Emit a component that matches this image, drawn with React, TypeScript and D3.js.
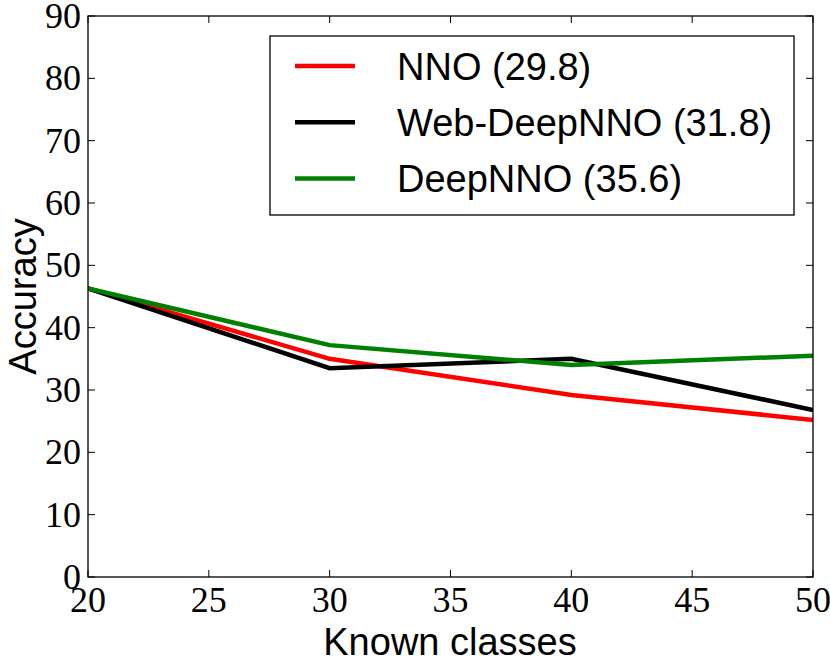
import React from "react";
import * as d3 from "d3";

const knownClasses = [20, 30, 40, 50];
const nnoValues = [46.3, 35.0, 29.2, 25.2];
const webDeepNnoValues = [46.3, 33.5, 35.0, 26.8];
const deepNnoValues = [46.3, 37.2, 34.0, 35.5];
const seriesLabels = ["NNO (29.8)", "Web-DeepNNO (31.8)", "DeepNNO (35.6)"];
const seriesColors = ["#ff0000", "#000000", "#008000"];
const xTicks = [20, 25, 30, 35, 40, 45, 50];
const yTicks = [0, 10, 20, 30, 40, 50, 60, 70, 80, 90];

const W = 830;
const H = 658;
const left = 88;
const right = 813;
const top = 16;
const bottom = 577;

export default function App() {
  const x = d3.scaleLinear().domain([20, 50]).range([left, right]);
  const y = d3.scaleLinear().domain([0, 90]).range([bottom, top]);
  const line = d3
    .line<number>()
    .x((_, i) => x(knownClasses[i]))
    .y((d) => y(d));
  const series = [nnoValues, webDeepNnoValues, deepNnoValues];
  const serif = "'Liberation Serif', 'Times New Roman', serif";
  const sans = "'Liberation Sans', Arial, Helvetica, sans-serif";
  const tickLen = 7;

  return (
    <svg
      width={W}
      height={H}
      style={{ position: "absolute", left: 0, top: 0, background: "#fff" }}
    >
      <rect x={0} y={0} width={W} height={H} fill="#fff" />
      <defs>
        <clipPath id="plotclip">
          <rect x={left} y={top} width={right - left} height={bottom - top} />
        </clipPath>
      </defs>
      <g clipPath="url(#plotclip)">
        {series.map((s, i) => (
          <path
            key={i}
            d={line(s) || ""}
            fill="none"
            stroke={seriesColors[i]}
            strokeWidth={4.5}
            strokeLinejoin="miter"
          />
        ))}
      </g>
      {xTicks.map((t) => (
        <g key={"x" + t}>
          <line x1={x(t)} x2={x(t)} y1={bottom} y2={bottom - tickLen} stroke="#000" strokeWidth={1} />
          <line x1={x(t)} x2={x(t)} y1={top} y2={top + tickLen} stroke="#000" strokeWidth={1} />
          <text
            x={x(t)}
            y={bottom + 35}
            textAnchor="middle"
            fontFamily={serif}
            fontSize={36}
            fill="#000"
          >
            {t}
          </text>
        </g>
      ))}
      {yTicks.map((t) => (
        <g key={"y" + t}>
          <line x1={left} x2={left + tickLen} y1={y(t)} y2={y(t)} stroke="#000" strokeWidth={1} />
          <line x1={right} x2={right - tickLen} y1={y(t)} y2={y(t)} stroke="#000" strokeWidth={1} />
          <text
            x={left - 7}
            y={y(t) + 12}
            textAnchor="end"
            fontFamily={serif}
            fontSize={36}
            fill="#000"
          >
            {t}
          </text>
        </g>
      ))}
      <rect
        x={left}
        y={top}
        width={right - left}
        height={bottom - top}
        fill="none"
        stroke="#000"
        strokeWidth={1.3}
      />
      <text
        x={450}
        y={655}
        textAnchor="middle"
        fontFamily={sans}
        fontSize={38}
        fill="#000"
      >
        Known classes
      </text>
      <text
        transform={`translate(36, ${(top + bottom) / 2}) rotate(-90)`}
        textAnchor="middle"
        fontFamily={sans}
        fontSize={38}
        fill="#000"
      >
        Accuracy
      </text>
      <rect x={270} y={36} width={524} height={179} fill="#fff" stroke="#000" strokeWidth={1.3} />
      {seriesLabels.map((lab, i) => {
        const ly = 66 + i * 56.3;
        return (
          <g key={lab}>
            <line x1={295} x2={355} y1={ly} y2={ly} stroke={seriesColors[i]} strokeWidth={4.5} />
            <text x={397} y={ly + 13.5} fontFamily={sans} fontSize={38} fill="#000">
              {lab}
            </text>
          </g>
        );
      })}
    </svg>
  );
}
